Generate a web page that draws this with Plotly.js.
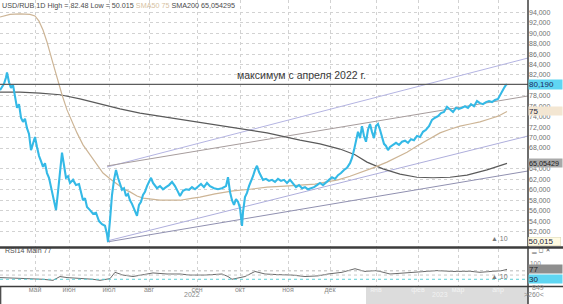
<!DOCTYPE html>
<html>
<head>
<meta charset="utf-8">
<script src="https://cdn.plot.ly/plotly-3.0.1.min.js"></script>
<style>
html,body{margin:0;padding:0;background:#fff;}
#chart{width:563px;height:304px;}
</style>
</head>
<body>
<div id="chart"></div>
<script>
// ---- data (bar index along the time axis) ----
const monthNames = ['май','июн','июл','авг','сен','окт','ноя','дек','янв','фев','мар','апр'];
const monthBars  = [35,69,109,149,197,240,288,330,376,418,458,498];
const yearLabels = ['2022','2023'];
const yearBars   = [192,440];

const priceT = [0,2,4,6,7,9,11,13,15,17,19,21,23,25,27,29,31,33,35,37,39,41,43,45,47,49,51,53,55,56,58,60,62,64,66,68,70,73,76,79,81,83,85,87,90,93,96,99,102,105,107,108,110,112,114,116,118,120,122,124,126,128,130,132,134,136,137,139,141,143,145,147,149,151,153,155,157,160,163,166,169,172,175,178,180,183,186,189,192,195,198,201,204,207,210,214,218,222,226,228,230,232,234,236,238,240,242,243,245,247,249,251,253,255,257,259,261,263,266,269,272,275,278,281,284,287,290,293,296,299,302,305,308,311,314,317,320,323,326,329,332,335,338,341,344,347,350,352,354,356,358,360,362,364,366,368,370,372,374,376,378,380,382,384,386,388,390,393,396,399,402,405,408,411,414,417,420,423,426,429,432,435,438,441,444,447,450,453,456,459,462,465,468,471,474,477,480,483,486,489,492,495,498,500,502,504,506,507];
const priceClose = [79.1,79.7,80.3,81.5,82.48,80.6,79.5,80.1,78.0,75.7,76.4,73.8,73.0,73.6,71.8,70.7,67.6,68.8,70.1,68.2,66.5,65.5,64.4,65.1,63.2,62.3,60.5,59.0,56.9,56.1,59.6,63.8,67.1,64.7,62.3,62.6,61.3,61.9,60.9,61.1,59.6,58.0,58.4,56.7,56.1,55.4,55.6,54.0,53.4,53.1,51.5,50.015,54.2,59.0,61.9,63.8,62.3,60.9,60.0,60.3,58.8,59.2,58.0,57.3,56.5,55.4,55.0,57.1,57.7,59.0,59.6,60.7,61.5,62.3,61.3,60.7,60.3,60.7,60.1,60.5,60.9,61.5,60.7,59.6,58.8,59.8,60.1,60.0,60.5,60.1,60.7,61.1,60.5,61.3,60.7,60.3,60.1,60.3,60.7,62.4,59.6,58.0,57.1,58.2,57.7,56.5,53.1,55.7,58.6,59.4,60.7,61.5,62.6,63.8,64.6,63.4,62.6,61.9,62.1,61.7,61.9,61.5,62.1,61.7,61.9,61.3,61.9,61.3,60.5,60.9,60.3,60.5,60.1,60.3,60.5,60.9,61.3,60.9,61.5,61.9,62.4,62.1,62.8,63.2,63.8,64.2,65.1,66.1,67.6,69.5,71.1,69.9,72.2,70.3,69.2,71.5,72.6,71.1,69.9,72.2,72.6,71.5,69.9,68.8,68.4,67.6,68.2,68.6,69.0,68.6,69.2,69.4,69.0,69.7,69.5,70.3,70.1,71.1,71.5,72.2,73.4,73.8,74.1,74.7,74.9,75.9,75.3,74.9,75.7,75.5,75.7,76.0,75.7,76.4,76.0,77.0,76.6,76.4,76.8,77.0,76.8,77.2,77.4,78.2,78.7,79.5,80.1,80.19];

const sma50T = [0,10,20,30,35,39,43,47,52,57,62,67,72,77,83,90,97,103,110,117,124,130,137,143,150,160,170,180,193,200,215,233,250,267,285,300,315,327,338,350,362,373,387,397,407,417,427,440,450,460,470,480,490,498,507];
const sma50V = [93.1,93.6,93.7,93.6,93.3,92.3,90.6,88.3,84.9,81.4,78.2,75.3,73.0,70.9,68.6,66.7,64.7,63.2,62.1,61.1,60.1,59.6,58.8,58.4,58.2,58.0,58.0,58.0,58.4,58.6,59.2,59.8,60.1,60.5,60.7,60.9,61.1,61.5,61.9,62.6,63.4,64.2,65.3,66.3,67.2,68.4,69.5,70.9,71.6,72.2,72.6,73.0,73.6,74.1,75.0];

const sma200T = [0,20,40,60,80,100,120,140,167,200,233,267,300,320,340,355,367,383,400,417,433,450,467,487,507];
const sma200V = [78.7,78.7,78.5,78.2,77.4,76.4,75.5,74.7,73.9,73.0,72.0,70.9,69.5,68.8,67.8,66.7,65.3,64.0,63.0,62.4,62.3,62.4,62.8,63.8,65.054295];

const trendT = [107,528];
const trendA = [64.36,85.24];
const trendB = [64.56,77.97];
const trendC = [50.19,70.30];
const trendD = [50.0,63.6];
const maxLevel = 80.19;

const rsiT = [0,10,20,33,43,53,60,67,80,93,100,110,115,123,133,143,153,167,180,190,205,222,228,232,238,245,255,265,278,292,305,318,328,342,355,365,375,380,390,403,420,437,453,470,480,490,502,507];
const rsiV = [38,36,37,35,30,25,43,38,35,30,25,33,63,50,43,50,60,55,55,50,50,55,43,30,35,43,67,55,52,50,43,46,55,63,80,67,71,67,55,60,67,71,67,68,63,67,71,77];
const rsiLevels = [70,50,30];

const yTicks = [52,54,56,58,60,62,64,68,70,72,74,76,78,82,84,86,88,90,92,94];

// ---- layout helpers (pixel -> paper) ----
const PW = 528, PH = 287;
const px = x => x / PW;
const py = y => (PH - y) / PH;

const FONT = 'Liberation Sans, Arial, sans-serif';

const traces = [
  {x: trendT, y: trendA, mode:'lines', line:{color:'#b4b4e2', width:1}, xaxis:'x', yaxis:'y', hoverinfo:'skip'},
  {x: trendT, y: trendB, mode:'lines', line:{color:'#a69c9c', width:1}, xaxis:'x', yaxis:'y', hoverinfo:'skip'},
  {x: trendT, y: trendC, mode:'lines', line:{color:'#aeaedc', width:1}, xaxis:'x', yaxis:'y', hoverinfo:'skip'},
  {x: trendT, y: trendD, mode:'lines', line:{color:'#9090b0', width:1}, xaxis:'x', yaxis:'y', hoverinfo:'skip'},
  {x: sma200T, y: sma200V, mode:'lines', line:{color:'#5a5a5a', width:1.2}, xaxis:'x', yaxis:'y'},
  {x: sma50T, y: sma50V, mode:'lines', line:{color:'#cdb596', width:1.2}, xaxis:'x', yaxis:'y'},
  {x: priceT, y: priceClose, mode:'lines', line:{color:'#34b9e6', width:2.1}, xaxis:'x', yaxis:'y'},
  {x: rsiT, y: rsiV, mode:'lines', line:{color:'#6a6a6a', width:1}, xaxis:'x', yaxis:'y2'}
];

const shapes = [
  {type:'rect', xref:'paper', yref:'paper', x0:px(366), x1:1, y0:py(304), y1:py(287), fillcolor:'#dcdcdc', line:{width:0}, layer:'below'},
  {type:'line', xref:'paper', yref:'y', x0:0, x1:1, y0:maxLevel, y1:maxLevel, line:{color:'#5c5c5c', width:1.3}},
  {type:'line', xref:'paper', yref:'y2', x0:0, x1:1, y0:rsiLevels[0], y1:rsiLevels[0], line:{color:'#b8b8b8', width:1, dash:'dot'}},
  {type:'line', xref:'paper', yref:'y2', x0:0, x1:1, y0:rsiLevels[1], y1:rsiLevels[1], line:{color:'#c8c8c8', width:1, dash:'dot'}},
  {type:'line', xref:'paper', yref:'y2', x0:0, x1:1, y0:rsiLevels[2], y1:rsiLevels[2], line:{color:'#5ccfd6', width:1, dash:'dot'}},
  {type:'line', xref:'paper', yref:'paper', x0:0, x1:563/PW, y0:py(247.5), y1:py(247.5), line:{color:'#3c3c3c', width:2.5}},
  {type:'line', xref:'paper', yref:'paper', x0:0, x1:563/PW, y0:py(286.5), y1:py(286.5), line:{color:'#3c3c3c', width:1.5}},
  {type:'line', xref:'paper', yref:'paper', x0:1, x1:1, y0:py(0), y1:py(304), line:{color:'#3c3c3c', width:1.5}},
  {type:'line', xref:'paper', yref:'paper', x0:px(0.7), x1:px(0.7), y0:py(287), y1:py(304), line:{color:'#3c3c3c', width:1.2}}
];

const boxFont = {family:FONT, size:8, color:'#1c2440'};
const annotations = [
  {xref:'x', yref:'y', x:301, y:81.9, text:'максимум с апреля 2022 г.', showarrow:false, font:{family:FONT, size:10.5, color:'#3a3a3a'}},
  {xref:'paper', yref:'y', x:1, xanchor:'left', y:maxLevel, text:'80,190', showarrow:false, bgcolor:'#5fd6f2', width:33, height:9, align:'left', borderpad:0, font:{family:FONT, size:8, color:'#1c2a5a'}},
  {xref:'paper', yref:'y', x:1, xanchor:'left', y:sma50V[sma50V.length-1], text:'75', showarrow:false, bgcolor:'#f3e6d2', width:33, height:8, align:'left', borderpad:0, font:boxFont},
  {xref:'paper', yref:'y', x:1, xanchor:'left', y:sma200V[sma200V.length-1], text:'65,05429', showarrow:false, bgcolor:'#a9a9a9', width:33, height:8, align:'left', borderpad:0, font:{family:FONT, size:7.2, color:'#1a1a1a'}},
  {xref:'paper', yref:'y', x:1, xanchor:'left', y:50.015, text:'50,015', showarrow:false, bgcolor:'#fffbe2', bordercolor:'#d8d2b0', borderwidth:0.5, width:32, height:8, align:'left', borderpad:0, font:boxFont},
  {xref:'paper', yref:'y2', x:1, xanchor:'left', y:104, text:'100', showarrow:false, font:{family:FONT, size:6.5, color:'#888'}},
  {xref:'paper', yref:'y2', x:1, xanchor:'left', y:rsiV[rsiV.length-1], text:'77', showarrow:false, bgcolor:'#8e8e8e', width:33, height:8, align:'left', borderpad:0, font:{family:FONT, size:8, color:'#222'}},
  {xref:'paper', yref:'y2', x:1, xanchor:'left', y:rsiLevels[2], text:'30', showarrow:false, bgcolor:'#5fd6f2', width:33, height:8, align:'left', borderpad:0, font:boxFont},
  {xref:'paper', yref:'paper', x:px(552), y:py(255.5), text:'▁ ◻ ✕', showarrow:false, font:{family:'DejaVu Sans', size:6, color:'#555'}},
  {xref:'paper', yref:'paper', x:px(510), y:py(243.5), text:'▲ 10', showarrow:false, font:{family:FONT, size:7, color:'#777'}},
  {xref:'paper', yref:'paper', x:px(510), y:py(282), text:'▲ 10', showarrow:false, font:{family:FONT, size:7, color:'#777'}},
  {xref:'paper', yref:'paper', x:px(3), xanchor:'left', y:py(255.5), text:'RSI14 Main 77', showarrow:false, font:{family:FONT, size:7, color:'#505050'}},
  {xref:'x', yref:'paper', x:yearBars[0], y:py(299.5), text:yearLabels[0], showarrow:false, font:{family:FONT, size:7, color:'#888'}},
  {xref:'x', yref:'paper', x:yearBars[1], y:py(299.5), text:yearLabels[1], showarrow:false, font:{family:FONT, size:7, color:'#f2f2f2'}},
  {xref:'paper', yref:'paper', x:px(545.5), y:py(293), text:'849', showarrow:false, font:{family:FONT, size:7, color:'#888'}},
  {xref:'paper', yref:'paper', x:px(545.5), y:py(299.5), text:'>260<', showarrow:false, font:{family:FONT, size:7, color:'#888'}}
];

const tickText = monthNames.map((m,i) => i >= 8 ? '<span style="color:#f4f4f4">'+m+'</span>' : m);

const layout = {
  width:563, height:304,
  margin:{l:0, r:35, t:0, b:17, pad:0},
  paper_bgcolor:'#ffffff', plot_bgcolor:'#ffffff',
  separators:', ',
  showlegend:false,
  title:{
    text:'USD/RUB 1D High = 82.48 Low = 50.015 <span style="color:#d6bfa2">SMA50 75</span> SMA200 65,054295',
    x:2/563, xanchor:'left', xref:'container',
    y:1-5.5/304, yanchor:'middle', yref:'container',
    font:{family:FONT, size:7.2, color:'#4a4a4a'}
  },
  xaxis:{
    domain:[0,1], range:[0,528], anchor:'y2',
    tickvals:monthBars, ticktext:tickText,
    tickfont:{family:FONT, size:7, color:'#8a8a8a'},
    showgrid:true, gridcolor:'#d2d2d2', griddash:'dot', gridwidth:1,
    zeroline:false, showline:false, ticks:'', ticklabelstandoff:-2, fixedrange:true
  },
  yaxis:{
    domain:[py(246.5),1], range:[96.356-246.5/5.22, 96.356], side:'right', anchor:'x',
    tickvals:yTicks, tickformat:'.3f',
    tickfont:{family:FONT, size:7, color:'#707070'},
    showgrid:true, gridcolor:'#d2d2d2', griddash:'dot', gridwidth:1,
    zeroline:false, showline:false, ticks:'', fixedrange:true
  },
  yaxis2:{
    domain:[py(286),py(249)], range:[(285.6-286)/0.211, (285.6-249)/0.211], side:'right', anchor:'x',
    showticklabels:false, showgrid:false, zeroline:false, showline:false, fixedrange:true
  },
  shapes:shapes,
  annotations:annotations
};

Plotly.newPlot('chart', traces, layout, {staticPlot:true, displayModeBar:false});
</script>
</body>
</html>
